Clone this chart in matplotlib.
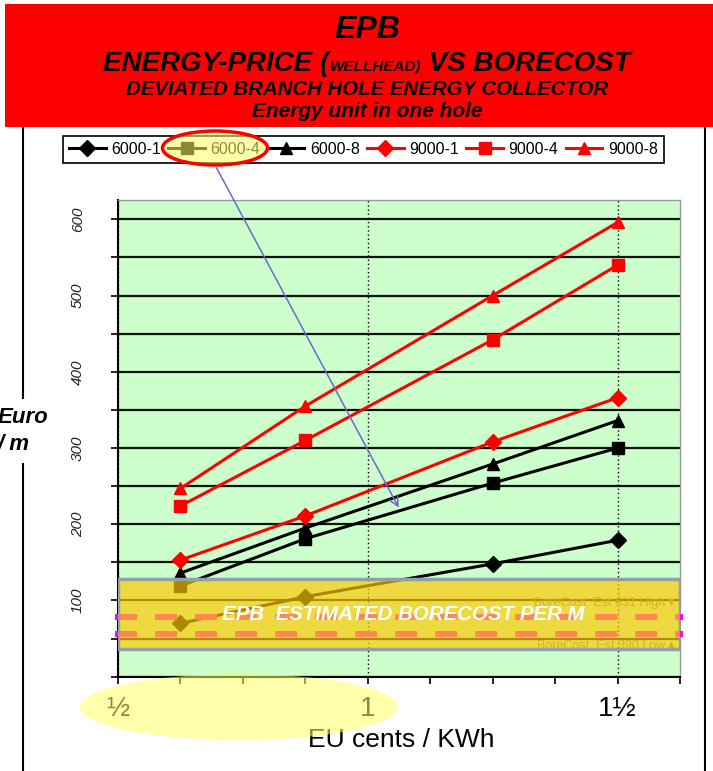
import matplotlib
matplotlib.use("Agg")
import matplotlib.pyplot as plt
from matplotlib.patches import Rectangle, Ellipse, FancyArrowPatch
from matplotlib.ticker import MultipleLocator, FuncFormatter

plt.rcParams['font.family'] = ['Liberation Sans', 'DejaVu Sans']

# energy price at the wellhead, EU cents / KWh
price = [0.625, 0.875, 1.25, 1.5]

# allowed bore cost, Euro per metre
cost_6000_1 = [70, 105, 148, 179]
cost_6000_4 = [119, 181, 254, 300]
cost_6000_8 = [136, 195, 279, 336]
cost_9000_1 = [153, 211, 308, 366]
cost_9000_4 = [224, 310, 442, 540]
cost_9000_8 = [247, 355, 500, 596]

series_names = ["6000-1", "6000-4", "6000-8", "9000-1", "9000-4", "9000-8"]

# estimated bore cost band and its two levels
borecost_high = 78
borecost_low = 56
band_top = 128
band_bottom = 36

x_ticks = [0.5, 1.0, 1.5]
x_tick_labels = ["½", "1", "1½"]

W, H = 713, 771


def fx(px):
    return px / W


def fy(py):
    return 1 - py / H


fig = plt.figure(figsize=(W / 100, H / 100), dpi=100)
fig.patch.set_facecolor("white")

# chart area frame, top part hidden by the banner
fig.patches.append(Rectangle((fx(23), fy(790)), fx(705) - fx(23), fy(125) - fy(790),
                             transform=fig.transFigure, fill=False,
                             edgecolor="black", lw=1.5, zorder=1))

ax = fig.add_axes([fx(118), fy(676.7), fx(680) - fx(118), fy(200.3) - fy(676.7)])
ax.set_facecolor("#CCFFCC")
ax.set_xlim(0.5, 1.625)
ax.set_ylim(0, 625)

all_costs = [cost_6000_1, cost_6000_4, cost_6000_8, cost_9000_1, cost_9000_4, cost_9000_8]
colors = ["black", "black", "black", "red", "red", "red"]
markers = ["D", "s", "^", "D", "s", "^"]
sizes = [8, 8, 9, 8, 8, 9]

handles = []
for name, vals, c, m, ms in zip(series_names, all_costs, colors, markers, sizes):
    h, = ax.plot(price, vals, color=c, marker=m, markersize=ms, lw=2.2,
                 markeredgecolor=c, label=name, zorder=3)
    handles.append(h)

# grid
ax.set_axisbelow(True)
ax.yaxis.set_major_locator(MultipleLocator(50))
ax.yaxis.grid(True, color="#111111", lw=1.6)
ax.set_xticks(x_ticks)
ax.set_xticklabels(x_tick_labels)
ax.xaxis.set_minor_locator(MultipleLocator(0.125))
ax.xaxis.grid(True, which="major", color="black", ls=(0, (1, 2)), lw=1)

ax.yaxis.set_major_formatter(FuncFormatter(
    lambda v, p: f"{int(v)}" if v > 0 and int(v) % 100 == 0 else ""))
ax.tick_params(axis="y", direction="out", length=5, width=1.2, pad=19,
               labelsize=11, labelcolor="#222222", labelrotation=90)
ax.tick_params(axis="x", which="both", direction="out", length=5, width=1.2,
               pad=9, labelsize=20)
for lab in ax.get_yticklabels():
    lab.set_fontstyle("italic")
    lab.set_va("center")

for s in ["left", "bottom"]:
    ax.spines[s].set_color("black")
    ax.spines[s].set_linewidth(1.5)
for s in ["top", "right"]:
    ax.spines[s].set_color("#999999")
    ax.spines[s].set_linewidth(1)

# bore cost levels (magenta dashes under the band)
for lvl in [borecost_high, borecost_low]:
    ax.axhline(lvl, xmin=-0.005, xmax=1.005, color="#FF00FF", lw=4.3,
               dashes=(3.7, 3), dash_capstyle="butt", clip_on=False, zorder=4)

ax.text(0.995, 104, "BoreCost  Est 631 High▼", transform=ax.get_yaxis_transform(),
        ha="right", va="top", fontsize=9, color="#808080", zorder=4)
ax.text(0.995, 48, "BoreCost  Est 390 Low▲", transform=ax.get_yaxis_transform(),
        ha="right", va="top", fontsize=9, color="#808080", zorder=4)

# semi-transparent band with the estimated bore cost
ax.add_patch(Rectangle((0, band_bottom), 1, band_top - band_bottom,
                       transform=ax.get_yaxis_transform(), facecolor="#FFC800",
                       alpha=0.68, edgecolor="none", zorder=5))
ax.add_patch(Rectangle((0, band_bottom), 1, band_top - band_bottom,
                       transform=ax.get_yaxis_transform(), fill=False,
                       edgecolor="#8FA0A6", lw=2.5, zorder=6))
ax.text(0.507, (band_top + band_bottom) / 2, "EPB  ESTIMATED BORECOST PER M",
        transform=ax.get_yaxis_transform(), ha="center", va="center",
        fontsize=14.8, fontweight="bold", fontstyle="italic", color="white", zorder=7)

# axis titles
fig.text(fx(401), fy(740), "EU cents / KWh", ha="center", va="center", fontsize=19)
fig.text(fx(-2), fy(431), "Euro\n/ m", ha="left", va="center", fontsize=16,
         fontweight="bold", fontstyle="italic", linespacing=1.35,
         bbox=dict(facecolor="white", edgecolor="none", pad=6), zorder=2)

# legend
leg = fig.legend(handles, series_names, ncol=6, loc="center",
                 bbox_to_anchor=(fx(363.5), fy(149.5)), fontsize=11.5,
                 handlelength=2.3, handletextpad=0.35, columnspacing=0.45,
                 borderpad=0.35, fancybox=False, framealpha=1, edgecolor="black")
leg.get_frame().set_linewidth(1.2)
leg.set_zorder(5)

# highlight on the 6000-4 legend entry and pointer to its curve
fig.patches.append(Ellipse((fx(215), fy(148)), fx(105), 34 / H, transform=fig.transFigure,
                           facecolor="#FFFF66", alpha=0.55, edgecolor="none", zorder=6))
fig.patches.append(Ellipse((fx(215), fy(148)), fx(105), 34 / H, transform=fig.transFigure,
                           fill=False, edgecolor="red", lw=2.5, zorder=7))
fig.patches.append(FancyArrowPatch((fx(215), fy(165)), (fx(400), fy(510)),
                                   transform=fig.transFigure, arrowstyle="->",
                                   mutation_scale=16, color="#6A6ACC", lw=1.1, zorder=7))

# highlight over the low price range
fig.patches.append(Ellipse((fx(239), fy(707)), fx(318), 66 / H, transform=fig.transFigure,
                           facecolor="#FFFF66", alpha=0.55, edgecolor="none", zorder=6))

# title banner
fig.patches.append(Rectangle((fx(5), fy(127)), fx(713) - fx(5), fy(4) - fy(127),
                             transform=fig.transFigure, facecolor="#FF0000",
                             edgecolor="none", zorder=10))

renderer = fig.canvas.get_renderer()


def title_line(parts, baseline, cx=367):
    texts = []
    for s, size in parts:
        t = fig.text(0, fy(baseline), s, fontsize=size, fontweight="bold",
                     fontstyle="italic", ha="left", va="baseline", zorder=11)
        texts.append(t)
    widths = [t.get_window_extent(renderer).width for t in texts]
    x = cx - sum(widths) / 2
    for t, w in zip(texts, widths):
        t.set_x(fx(x))
        x += w


title_line([("EPB", 23)], 38)
title_line([("ENERGY-PRICE (", 20), ("WELLHEAD)", 11), (" VS BORECOST", 20)], 71)
title_line([("DEVIATED BRANCH HOLE ENERGY COLLECTOR", 14.7)], 95)
title_line([("Energy unit in one hole", 15)], 117)

fig.savefig("out.png", dpi=100)
